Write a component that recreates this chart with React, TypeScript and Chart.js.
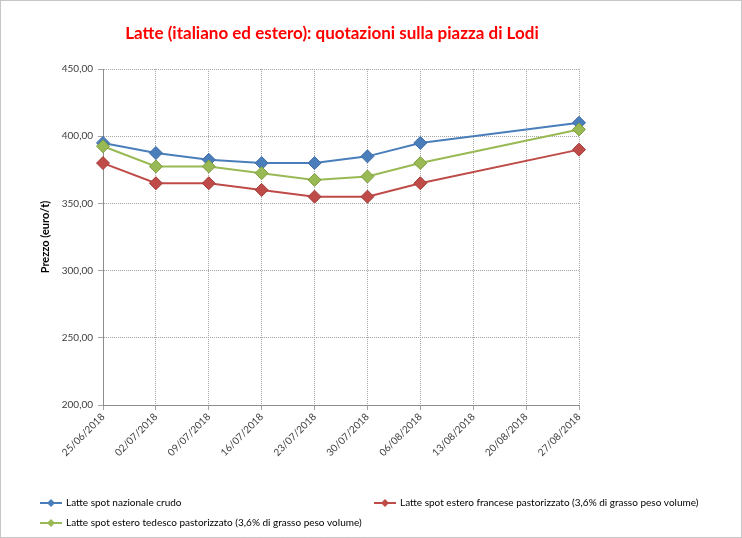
import React, { useEffect, useRef } from "react";
import { Chart, registerables } from "chart.js";

Chart.register(...registerables);

const titleText = "Latte (italiano ed estero): quotazioni sulla piazza di Lodi";
const yTitle = "Prezzo (euro/t)";
const categories = [
  "25/06/2018",
  "02/07/2018",
  "09/07/2018",
  "16/07/2018",
  "23/07/2018",
  "30/07/2018",
  "06/08/2018",
  "13/08/2018",
  "20/08/2018",
  "27/08/2018",
];
const seriesNames = [
  "Latte spot nazionale crudo",
  "Latte spot estero francese pastorizzato (3,6% di grasso peso volume)",
  "Latte spot estero tedesco pastorizzato (3,6% di grasso peso volume)",
];
const nazionale = [395, 387.5, 382.5, 380, 380, 385, 395, null, null, 410];
const francese = [380, 365, 365, 360, 355, 355, 365, null, null, 390];
const tedesco = [392.5, 377.5, 377.5, 372.5, 367.5, 370, 380, null, null, 405];
const yMin = 200;
const yMax = 450;
const yStep = 50;

const colors = ["#4A7EBB", "#BE4B48", "#98B954"];
const borders = ["#3C6AA3", "#A33D3A", "#7F9E40"];
const legendPos = [
  { x: 40, y: 503 },
  { x: 374, y: 503 },
  { x: 40, y: 523 },
];

const FONT = "Lato, 'Open Sans', sans-serif";

const decorPlugin = {
  id: "decor",
  beforeDraw(chart: any) {
    const ctx = chart.ctx;
    ctx.save();
    ctx.fillStyle = "#ffffff";
    ctx.fillRect(0, 0, chart.width, chart.height);
    ctx.restore();
  },
  afterDraw(chart: any) {
    const ctx = chart.ctx;
    ctx.save();
    // border
    ctx.strokeStyle = "#8c8c8c";
    ctx.lineWidth = 1;
    ctx.setLineDash([1, 1]);
    ctx.strokeRect(0.5, 0.5, chart.width - 1, chart.height - 1);
    ctx.setLineDash([]);
    // title
    ctx.fillStyle = "#FF0000";
    ctx.font = "bold 17px " + FONT;
    ctx.textAlign = "center";
    ctx.textBaseline = "middle";
    ctx.fillText(titleText, 332, 34);
    // legend
    ctx.font = "10px " + FONT;
    ctx.textAlign = "left";
    chart.data.datasets.forEach((ds: any, i: number) => {
      const p = legendPos[i];
      ctx.strokeStyle = colors[i];
      ctx.lineWidth = 2;
      ctx.beginPath();
      ctx.moveTo(p.x, p.y);
      ctx.lineTo(p.x + 22, p.y);
      ctx.stroke();
      const cx = p.x + 11;
      const r = 4;
      ctx.fillStyle = colors[i];
      ctx.beginPath();
      ctx.moveTo(cx, p.y - r);
      ctx.lineTo(cx + r, p.y);
      ctx.lineTo(cx, p.y + r);
      ctx.lineTo(cx - r, p.y);
      ctx.closePath();
      ctx.fill();
      ctx.fillStyle = "#000000";
      ctx.fillText(ds.label, p.x + 26, p.y);
    });
    ctx.restore();
  },
};

export default function App() {
  const ref = useRef<HTMLCanvasElement | null>(null);

  useEffect(() => {
    document.body.style.margin = "0";
    const canvas = ref.current;
    if (!canvas) return;
    const mk = (i: number, data: (number | null)[], order: number) => ({
      label: seriesNames[i],
      data,
      borderColor: colors[i],
      backgroundColor: colors[i],
      pointBorderColor: borders[i],
      pointBackgroundColor: colors[i],
      pointStyle: "rectRot",
      pointRadius: 6.5,
      pointBorderWidth: 1,
      borderWidth: 2,
      tension: 0,
      spanGaps: true,
      order,
    });
    const chart = new Chart(canvas, {
      type: "line",
      data: {
        labels: categories,
        datasets: [mk(0, nazionale, 3), mk(1, francese, 2), mk(2, tedesco, 1)],
      },
      plugins: [decorPlugin],
      options: {
        responsive: false,
        animation: false,
        maintainAspectRatio: false,
        layout: { padding: { top: 69, left: 0, right: 163, bottom: 70 } },
        plugins: {
          legend: { display: false },
          title: { display: false },
          tooltip: { enabled: false },
        },
        scales: {
          x: {
            type: "category",
            offset: false,
            grid: {
              display: true,
              color: "#a6a6a6",
              tickLength: 5,
              drawTicks: true,
            },
            border: { display: true, color: "#8c8c8c", dash: [1, 1] },
            ticks: {
              autoSkip: false,
              maxRotation: 45,
              minRotation: 45,
              padding: 1,
              color: "#404040",
              font: { family: FONT, size: 10 },
            },
            afterFit(scale: any) {
              scale.height = 63;
            },
          },
          y: {
            min: yMin,
            max: yMax,
            grid: { color: "#a6a6a6", tickLength: 5 },
            border: { display: true, color: "#8c8c8c", dash: [1, 1] },
            ticks: {
              stepSize: yStep,
              padding: 5,
              color: "#404040",
              font: { family: FONT, size: 10 },
              callback: (v: any) => Number(v).toFixed(2).replace(".", ","),
            },
            title: {
              display: true,
              text: yTitle,
              color: "#000000",
              font: { family: FONT, size: 11, weight: "bold" },
              padding: { top: 39, bottom: 0 },
            },
            afterFit(scale: any) {
              scale.width = 103;
            },
          },
        },
      },
    } as any);
    return () => chart.destroy();
  }, []);

  return <canvas ref={ref} width={742} height={538} style={{ display: "block", width: 742, height: 538 }} />;
}
